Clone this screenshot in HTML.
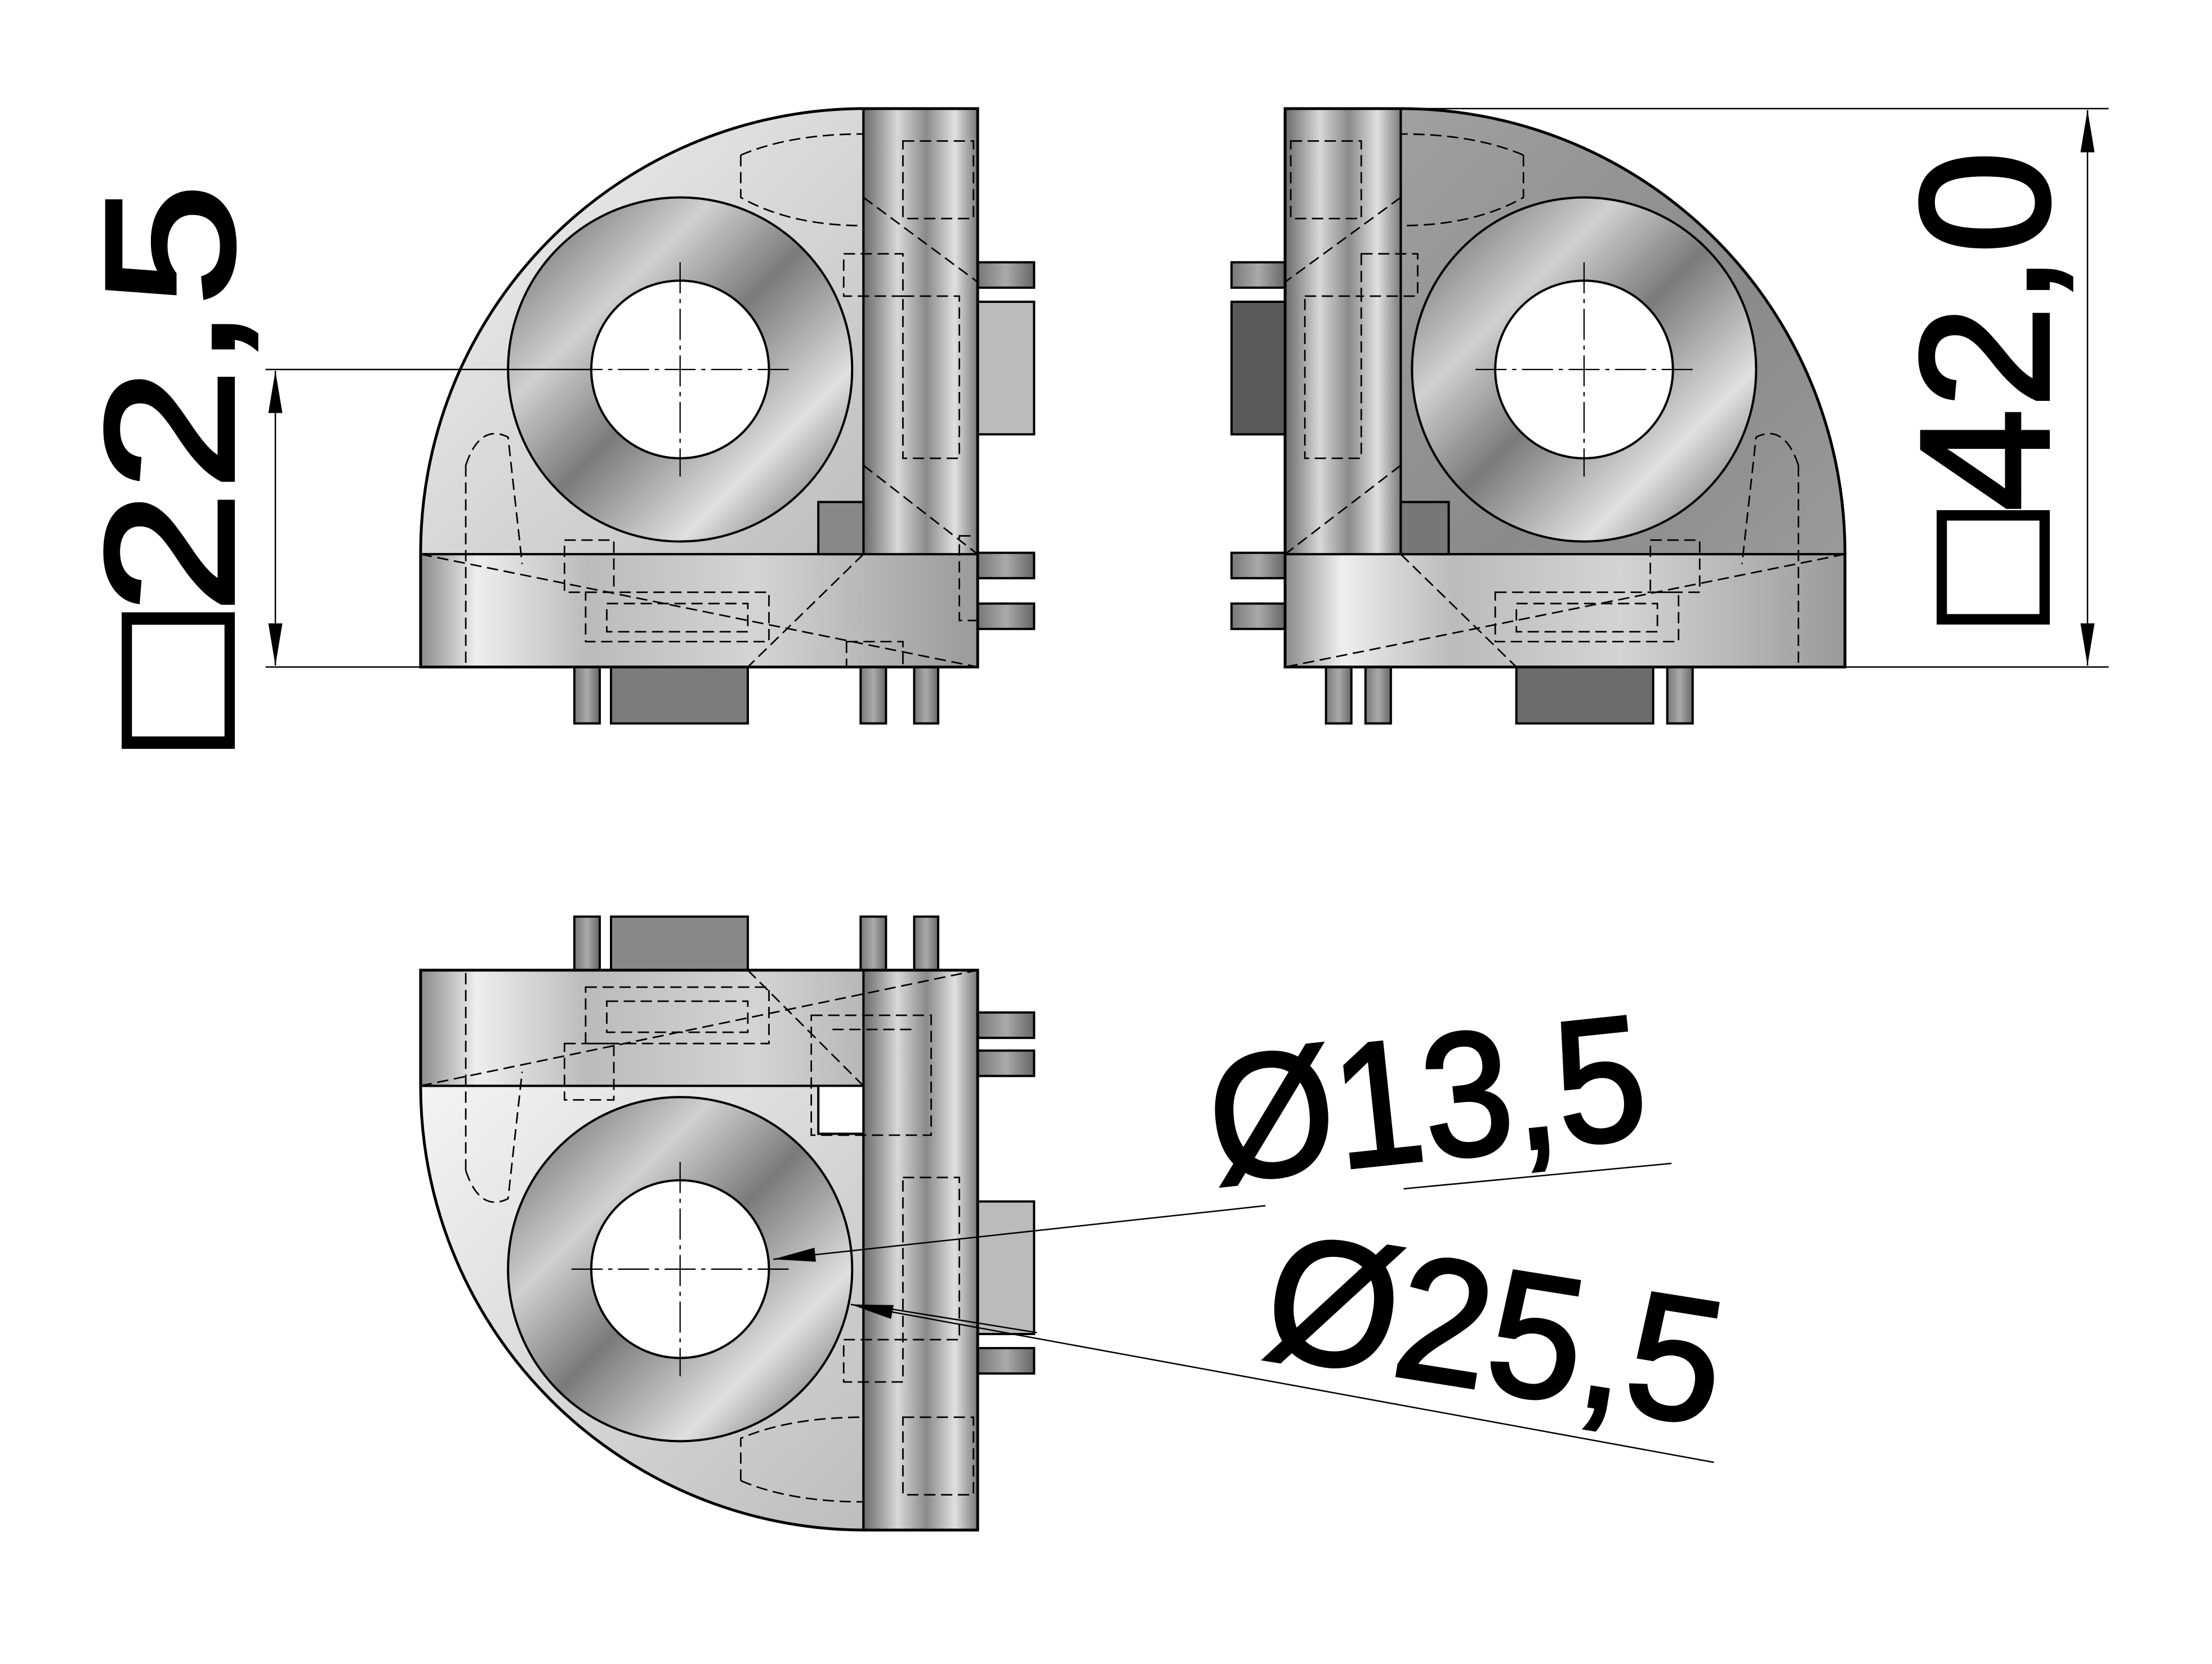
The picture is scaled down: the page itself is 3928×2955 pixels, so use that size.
<!DOCTYPE html>
<html><head><meta charset="utf-8"><style>
html,body{margin:0;padding:0;background:#fff}
svg{display:block}
text{font-family:"Liberation Sans",sans-serif;fill:#000;stroke:#000;stroke-width:2.5}
</style></head><body>
<svg width="3928" height="2955" viewBox="0 0 1568 1180" xmlns="http://www.w3.org/2000/svg">
<defs>
<linearGradient id="body" x1="0" y1="0" x2="1" y2="1">
<stop offset="0" stop-color="#f4f4f4"/><stop offset="0.5" stop-color="#d8d8d8"/><stop offset="1" stop-color="#bdbdbd"/></linearGradient>
<linearGradient id="bodyD" x1="0" y1="0" x2="1" y2="1">
<stop offset="0" stop-color="#a0a0a0"/><stop offset="0.6" stop-color="#8a8a8a"/><stop offset="1" stop-color="#9a9a9a"/></linearGradient>
<linearGradient id="stripV" x1="0" y1="0" x2="1" y2="0">
<stop offset="0" stop-color="#6a6a6a"/><stop offset="0.3" stop-color="#d8d8d8"/><stop offset="0.55" stop-color="#8a8a8a"/><stop offset="0.8" stop-color="#e0e0e0"/><stop offset="1" stop-color="#7a7a7a"/></linearGradient>
<linearGradient id="stripH" x1="0" y1="0" x2="1" y2="0">
<stop offset="0" stop-color="#8a8a8a"/><stop offset="0.1" stop-color="#eeeeee"/><stop offset="0.3" stop-color="#bbbbbb"/><stop offset="0.6" stop-color="#d4d4d4"/><stop offset="1" stop-color="#9a9a9a"/></linearGradient>
<linearGradient id="ring" x1="0" y1="0" x2="1" y2="1">
<stop offset="0" stop-color="#5a5a5a"/><stop offset="0.3" stop-color="#d0d0d0"/><stop offset="0.5" stop-color="#7a7a7a"/><stop offset="0.75" stop-color="#e0e0e0"/><stop offset="1" stop-color="#4a4a4a"/></linearGradient>
<linearGradient id="tab" x1="0" y1="0" x2="1" y2="0">
<stop offset="0" stop-color="#777"/><stop offset="0.5" stop-color="#aaa"/><stop offset="1" stop-color="#666"/></linearGradient>
<marker id="arL" markerWidth="30" markerHeight="10" refX="30" refY="5" orient="auto-start-reverse" markerUnits="userSpaceOnUse" viewBox="0 0 30 10">
<path d="M0,0 L30,5 L0,10 z" fill="#000" stroke="none"/></marker>
</defs>

<g stroke="#000" stroke-width="1.6">
<!-- ===== TOP LEFT VIEW ===== -->
<g>
<rect x="407" y="473" width="18" height="40" fill="url(#tab)"/>
<rect x="433" y="473" width="97" height="40" fill="#7c7c7c"/>
<rect x="610" y="473" width="18" height="40" fill="url(#tab)"/>
<rect x="648" y="473" width="17" height="40" fill="url(#tab)"/>
<rect x="693" y="186" width="40" height="18" fill="url(#tab)"/>
<rect x="693" y="214" width="40" height="94" fill="#bbb"/>
<rect x="693" y="392" width="40" height="18" fill="url(#tab)"/>
<rect x="693" y="428" width="40" height="18" fill="url(#tab)"/>
<path d="M612,77 A315,315 0 0 0 298,393 L612,393 Z" fill="url(#body)"/>
<rect x="612" y="77" width="81" height="396" fill="url(#stripV)"/>
<rect x="298" y="393" width="395" height="80" fill="url(#stripH)"/>
<path d="M580,356 L612,356 L612,393 L580,393 Z" fill="#888"/>
<circle cx="482" cy="262" r="122" fill="url(#ring)"/>
<circle cx="482" cy="262" r="63" fill="#fff"/>
<g fill="none" stroke-dasharray="8,4" stroke-width="1.1">
<path d="M525,110 Q560,95 612,95 M525,110 L525,140 Q560,160 612,160"/>
<path d="M640,100 L690,100 L690,155 L640,155 Z"/>
<path d="M598,180 L640,180 L640,210 L598,210 Z M640,210 L680,210 L680,325 L640,325 Z"/>
<path d="M330,330 Q340,300 360,310 L370,400 M330,330 L330,470"/>
<path d="M400,383 L435,383 L435,420 L400,420 Z M415,420 L545,420 L545,455 L415,455 Z M430,428 L530,428 L530,448 L430,448 Z"/>
<path d="M298,393 L693,473 M612,393 L530,473 M612,330 L693,393 M612,140 L693,200"/>
<path d="M600,455 L640,455 L640,473 L600,473 Z M680,380 L693,380 L693,440 L680,440 Z"/>
</g>
<g fill="none" stroke-width="0.9" stroke-dasharray="22,4,3,4">
<line x1="482" y1="186" x2="482" y2="338"/><line x1="405" y1="262" x2="560" y2="262"/>
</g>
<path d="M612,77 A315,315 0 0 0 298,393 L298,473 L693,473 L693,77 Z" fill="none" stroke-width="2"/>
</g>

<!-- ===== TOP RIGHT VIEW ===== -->
<g>
<rect x="940" y="473" width="18" height="40" fill="url(#tab)"/>
<rect x="968" y="473" width="18" height="40" fill="url(#tab)"/>
<rect x="1075" y="473" width="97" height="40" fill="#6c6c6c"/>
<rect x="1182" y="473" width="18" height="40" fill="url(#tab)"/>
<rect x="873" y="186" width="38" height="18" fill="url(#tab)"/>
<rect x="873" y="214" width="38" height="94" fill="#5a5a5a"/>
<rect x="873" y="392" width="38" height="18" fill="url(#tab)"/>
<rect x="873" y="428" width="38" height="18" fill="url(#tab)"/>
<path d="M993,77 A315,315 0 0 1 1308,393 L993,393 Z" fill="url(#bodyD)"/>
<rect x="911" y="77" width="82" height="396" fill="url(#stripV)"/>
<rect x="911" y="393" width="397" height="80" fill="url(#stripH)"/>
<path d="M993,356 L1027,356 L1027,393 L993,393 Z" fill="#777"/>
<circle cx="1123" cy="262" r="122" fill="url(#ring)"/>
<circle cx="1123" cy="262" r="63" fill="#fff"/>
<g fill="none" stroke-dasharray="8,4" stroke-width="1.1">
<path d="M1080,110 Q1045,95 993,95 M1080,110 L1080,140 Q1045,160 993,160"/>
<path d="M915,100 L965,100 L965,155 L915,155 Z"/>
<path d="M965,180 L1005,180 L1005,210 L965,210 Z M925,210 L965,210 L965,325 L925,325 Z"/>
<path d="M1275,330 Q1265,300 1245,310 L1235,400 M1275,330 L1275,470"/>
<path d="M1170,383 L1205,383 L1205,420 L1170,420 Z M1060,420 L1190,420 L1190,455 L1060,455 Z M1075,428 L1175,428 L1175,448 L1075,448 Z"/>
<path d="M1308,393 L911,473 M993,393 L1075,473 M993,330 L911,393 M993,140 L911,200"/>
</g>
<g fill="none" stroke-width="0.9" stroke-dasharray="22,4,3,4">
<line x1="1123" y1="186" x2="1123" y2="338"/><line x1="1046" y1="262" x2="1200" y2="262"/>
</g>
<path d="M993,77 A315,315 0 0 1 1308,393 L1308,473 L911,473 L911,77 Z" fill="none" stroke-width="2"/>
</g>

<!-- ===== BOTTOM VIEW ===== -->
<g>
<rect x="407" y="650" width="18" height="38" fill="url(#tab)"/>
<rect x="433" y="650" width="97" height="38" fill="#888"/>
<rect x="610" y="650" width="18" height="38" fill="url(#tab)"/>
<rect x="648" y="650" width="17" height="38" fill="url(#tab)"/>
<rect x="693" y="718" width="40" height="18" fill="url(#tab)"/>
<rect x="693" y="745" width="40" height="18" fill="url(#tab)"/>
<rect x="693" y="852" width="40" height="94" fill="#bbb"/>
<rect x="693" y="956" width="40" height="18" fill="url(#tab)"/>
<path d="M298,770 A315,315 0 0 0 612,1085 L612,770 Z" fill="url(#body)"/>
<rect x="298" y="688" width="395" height="82" fill="url(#stripH)"/>
<rect x="612" y="688" width="81" height="397" fill="url(#stripV)"/>
<rect x="580" y="770" width="32" height="34" fill="#fff"/>
<circle cx="482" cy="900" r="122" fill="url(#ring)"/>
<circle cx="482" cy="900" r="63" fill="#fff"/>
<g fill="none" stroke-dasharray="8,4" stroke-width="1.1">
<path d="M525,1050 Q560,1065 612,1065 M525,1050 L525,1020 Q560,1005 612,1005"/>
<path d="M640,1005 L690,1005 L690,1060 L640,1060 Z"/>
<path d="M598,950 L640,950 L640,980 L598,980 Z M640,835 L680,835 L680,950 L640,950 Z"/>
<path d="M330,830 Q340,860 360,850 L370,760 M330,830 L330,690"/>
<path d="M400,740 L435,740 L435,780 L400,780 Z M415,700 L545,700 L545,740 L415,740 Z M430,710 L530,710 L530,732 L430,732 Z"/>
<path d="M298,770 L693,688 M612,770 L530,688 M575,720 L660,720 L660,805 L575,805 Z M590,730 L650,730"/>
</g>
<g fill="none" stroke-width="0.9" stroke-dasharray="22,4,3,4">
<line x1="482" y1="824" x2="482" y2="976"/><line x1="405" y1="900" x2="560" y2="900"/>
</g>
<path d="M298,688 L693,688 L693,1085 L612,1085 A315,315 0 0 1 298,770 Z" fill="none" stroke-width="2"/>
</g>

<!-- ===== DIMENSIONS ===== -->
<g stroke-width="1">
<line x1="188" y1="262" x2="420" y2="262"/>
<line x1="188" y1="473" x2="298" y2="473"/>
<line x1="195" y1="263" x2="195" y2="472" marker-start="url(#arL)" marker-end="url(#arL)"/>
<line x1="993" y1="77" x2="1495" y2="77"/>
<line x1="1308" y1="473" x2="1495" y2="473"/>
<line x1="1480" y1="78" x2="1480" y2="472" marker-start="url(#arL)" marker-end="url(#arL)"/>
<line x1="897" y1="855" x2="548" y2="893" marker-end="url(#arL)"/>
<line x1="995" y1="843" x2="1185" y2="825"/>
<line x1="1215" y1="1037" x2="603" y2="925" marker-end="url(#arL)"/>
<line x1="630" y1="928" x2="735" y2="945"/>
</g>
</g>

<text transform="translate(165,530) rotate(-90)" font-size="130" textLength="400" lengthAdjust="spacingAndGlyphs">□22,5</text>
<text transform="translate(1452,442) rotate(-90)" font-size="130" textLength="335" lengthAdjust="spacingAndGlyphs">□42,0</text>
<text transform="translate(862,838) rotate(-6)" font-size="125" textLength="310" lengthAdjust="spacingAndGlyphs">Ø13,5</text>
<text transform="translate(893,960) rotate(9)" font-size="125" textLength="325" lengthAdjust="spacingAndGlyphs">Ø25,5</text>
</svg>
</body></html>
